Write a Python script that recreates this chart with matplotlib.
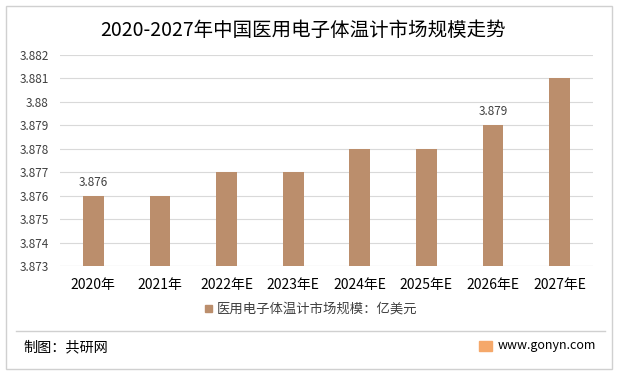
import matplotlib
matplotlib.use('Agg')
import matplotlib.pyplot as plt
from matplotlib.patches import Rectangle
from matplotlib.lines import Line2D

plt.rcParams['font.family'] = ['Noto Sans CJK SC', 'DejaVu Sans']

# 数据
years = ['2020年', '2021年', '2022年E', '2023年E', '2024年E', '2025年E', '2026年E', '2027年E']
values = [3.876, 3.876, 3.877, 3.877, 3.878, 3.878, 3.879, 3.881]
labelled = {0: '3.876', 6: '3.879'}
yticks = [3.873, 3.874, 3.875, 3.876, 3.877, 3.878, 3.879, 3.88, 3.881, 3.882]
ytick_labels = ['3.873', '3.874', '3.875', '3.876', '3.877', '3.878', '3.879', '3.88', '3.881', '3.882']

bar_color = '#BB8E6C'
grid_color = '#D9D9D9'
text_color = '#404040'

fig = plt.figure(figsize=(6.18, 3.76), dpi=100)
fig.patch.set_facecolor('white')

# 外框
fig.add_artist(Rectangle((6 / 618, 1 - 369 / 376), 606 / 618, 363 / 376,
                         transform=fig.transFigure, fill=False,
                         edgecolor='#D0D0D0', linewidth=1))

ax = fig.add_axes([60 / 618, 1 - 266 / 376, 533 / 618, 211 / 376])
x = range(len(years))
ax.bar(x, values, width=0.31, bottom=0, color=bar_color, zorder=3)
ax.set_ylim(3.873, 3.882)
ax.set_xlim(-0.5, len(years) - 0.5)
ax.set_yticks(yticks)
ax.set_yticklabels(ytick_labels, fontsize=8.5, color=text_color)
ax.set_xticks(list(x))
ax.set_xticklabels(years, fontsize=10, color='#000000')
ax.tick_params(axis='y', length=0, pad=8)
ax.tick_params(axis='x', length=0, pad=9)
ax.grid(axis='y', color=grid_color, linewidth=0.8, zorder=0)
for s in ax.spines.values():
    s.set_visible(False)
ax.axhline(3.873, color=grid_color, linewidth=0.8, zorder=1)

for i, txt in labelled.items():
    ax.text(i, values[i] + 0.0003, txt, ha='center', va='bottom',
            fontsize=8.5, color=text_color)

# 标题
fig.text(100 / 618, 1 - 30 / 376, '2020-2027年中国医用电子体温计市场规模走势',
         ha='left', va='center', fontsize=14, color='#000000')

# 图例
fig.add_artist(Rectangle((205 / 618, 1 - 312 / 376), 7 / 618, 7 / 376,
                         transform=fig.transFigure, color=bar_color))
fig.text(217 / 618, 1 - 308.5 / 376, '医用电子体温计市场规模：亿美元',
         ha='left', va='center', fontsize=9.6, color=text_color)

# 分隔线和底部
fig.add_artist(Line2D([16 / 618, 605 / 618], [1 - 331 / 376, 1 - 331 / 376],
                      transform=fig.transFigure, color='#D0D0D0', linewidth=1))
fig.text(23 / 618, 1 - 347 / 376, '制图：共研网', ha='left', va='center',
         fontsize=10.2, color='#000000')
fig.add_artist(Rectangle((479 / 618, 1 - 351 / 376), 13 / 618, 10 / 376,
                         transform=fig.transFigure, color='#F5A86A'))
fig.text(498 / 618, 1 - 346 / 376, 'www.gonyn.com', ha='left', va='center',
         fontsize=9, color='#000000')

fig.savefig('out.png', dpi=100)
